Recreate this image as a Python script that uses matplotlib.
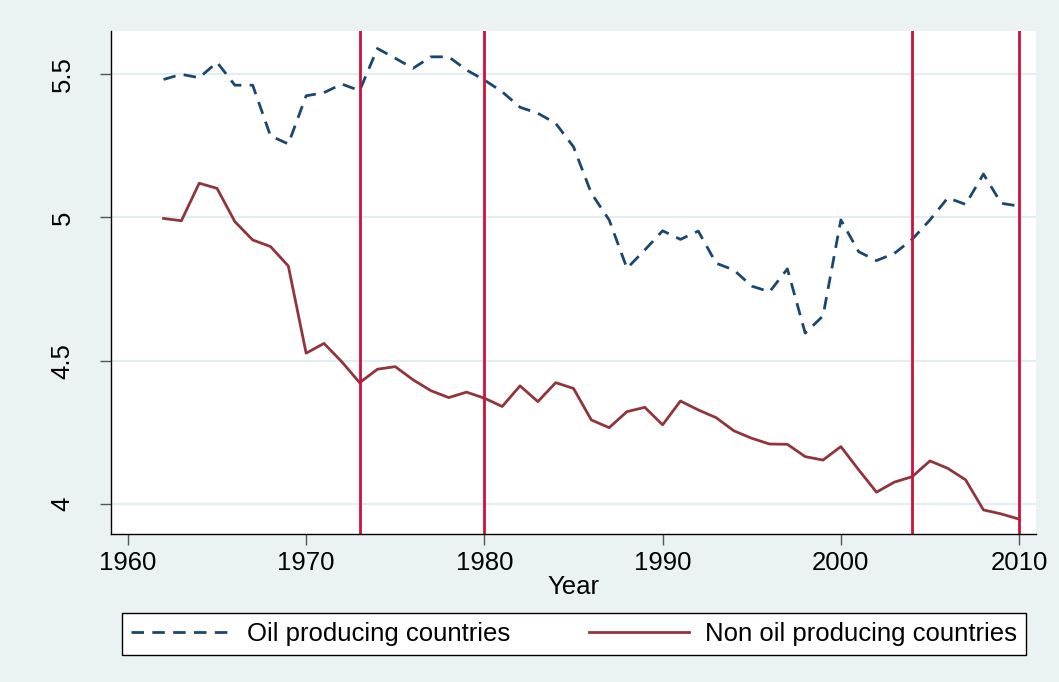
import numpy as np
import matplotlib.pyplot as plt

plt.rcParams['font.family'] = ['Liberation Sans', 'DejaVu Sans']

years = list(range(1962, 2011))
oil = [5.481, 5.499, 5.487, 5.541, 5.461, 5.461, 5.284, 5.256, 5.424, 5.435,
       5.465, 5.442, 5.589, 5.555, 5.520, 5.560, 5.560, 5.514, 5.479, 5.438,
       5.384, 5.363, 5.328, 5.246, 5.084, 4.991, 4.822, 4.886, 4.953, 4.923,
       4.952, 4.840, 4.816, 4.760, 4.740, 4.820, 4.596, 4.656, 4.991, 4.880,
       4.849, 4.874, 4.923, 4.991, 5.068, 5.045, 5.151, 5.049, 5.039]
non_oil = [4.996, 4.988, 5.119, 5.101, 4.985, 4.921, 4.898, 4.830, 4.526, 4.560,
           4.496, 4.423, 4.470, 4.479, 4.433, 4.395, 4.371, 4.390, 4.369, 4.340,
           4.412, 4.357, 4.423, 4.403, 4.293, 4.266, 4.322, 4.337, 4.276, 4.359,
           4.328, 4.301, 4.255, 4.229, 4.209, 4.208, 4.165, 4.153, 4.200, 4.119,
           4.041, 4.076, 4.095, 4.150, 4.124, 4.084, 3.979, 3.965, 3.947]
break_years = [1973, 1980, 2004, 2010]
x_ticks = [1960, 1970, 1980, 1990, 2000, 2010]
y_ticks = [4, 4.5, 5, 5.5]
y_labels = ['4', '4.5', '5', '5.5']

bg = '#EAF2F3'
fig = plt.figure(figsize=(10.59, 6.82), dpi=100, facecolor=bg)
ax = fig.add_axes([0.1048, 0.217, 0.8735, 0.7375])
ax.set_facecolor('white')

for y in y_ticks:
    ax.axhline(y, color='#E4EDEF', lw=1.6, zorder=0)

ax.plot(years, oil, color='#1a476f', lw=2, dashes=(4.5, 3), label='Oil producing countries')
ax.plot(years, non_oil, color='#90353b', lw=2, label='Non oil producing countries')
for yr in break_years:
    ax.axvline(yr, color='#D0103A', lw=2)

ax.set_xlim(1959.05, 2010.95)
ax.set_ylim(3.895, 5.65)
ax.set_xticks(x_ticks)
ax.set_yticks(y_ticks)
ax.set_yticklabels(y_labels, rotation=90, va='center')
ax.tick_params(labelsize=18.5, length=8, width=1, color='#555555')
ax.tick_params(axis='y', pad=18)
ax.tick_params(axis='x', pad=4)
ax.set_xlabel('Year', fontsize=18.5, labelpad=0)

for s in ['top', 'right']:
    ax.spines[s].set_visible(False)
for s in ['left', 'bottom']:
    ax.spines[s].set_color('black')
    ax.spines[s].set_linewidth(1)

leg = fig.legend(loc='lower left', bbox_to_anchor=(0.115, 0.0396, 0.854, 0.066),
                 mode='expand', ncol=2, fontsize=18.5, frameon=True, fancybox=False,
                 framealpha=1, handlelength=3.9, handletextpad=0.62,
                 borderaxespad=0, borderpad=0.35)
leg.get_frame().set_edgecolor('black')
leg.get_frame().set_linewidth(1)
leg.get_frame().set_facecolor('white')

fig.savefig('out.png', dpi=100, facecolor=bg)
